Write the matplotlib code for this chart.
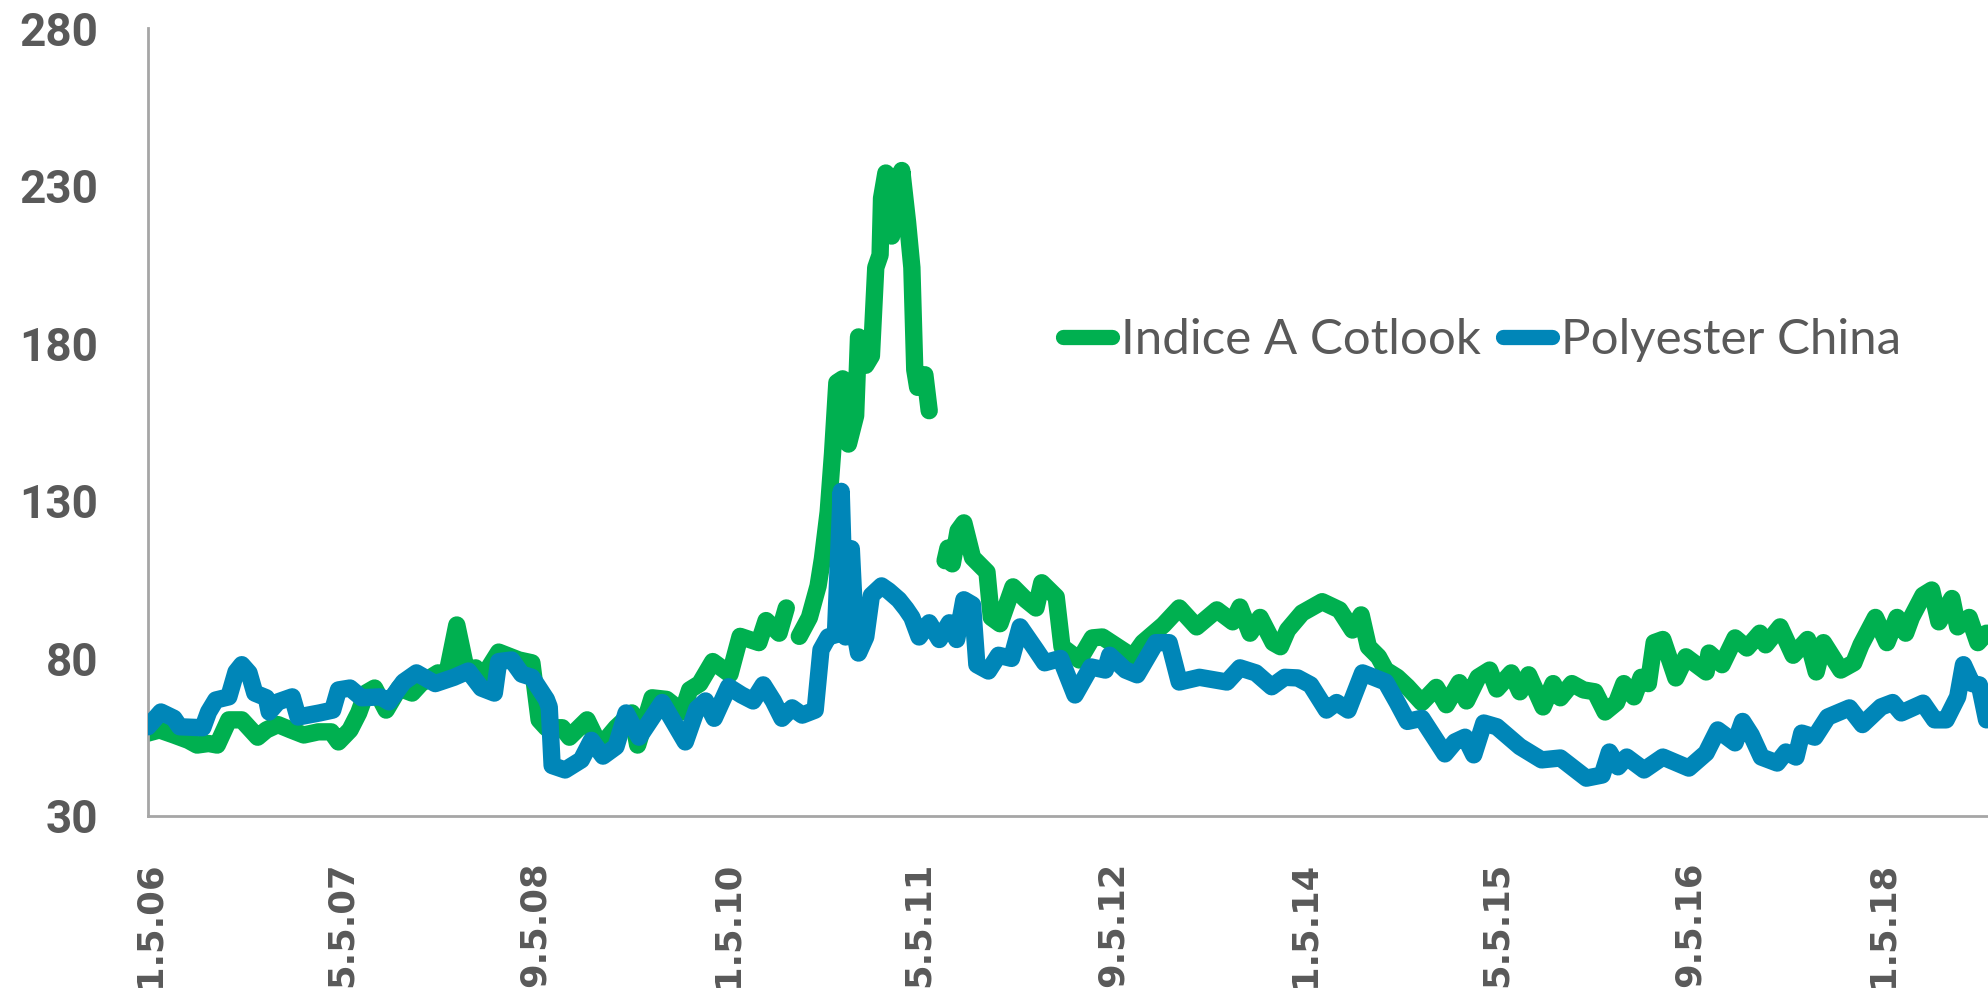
import matplotlib.pyplot as plt
from matplotlib.font_manager import FontProperties
import numpy as np
import pandas as pd

# Indice A Cotlook: (decimal year, value); nan marks the breaks in the series
cotlook_t = [2006.00, 2006.08, 2006.18, 2006.28, 2006.34, 2006.42, 2006.48, 2006.56, 2006.65, 2006.76,
             2006.82, 2006.90, 2006.99, 2007.08, 2007.18, 2007.27, 2007.32, 2007.40, 2007.46, 2007.51,
             2007.57, 2007.65, 2007.74, 2007.83, 2007.89, 2008.01, 2008.07, 2008.14, 2008.21, 2008.27,
             2008.32, 2008.43, 2008.57, 2008.66, 2008.71, 2008.76, 2008.87, 2008.92, 2009.04, 2009.13,
             2009.24, 2009.35, 2009.39, 2009.49, 2009.59, 2009.70, 2009.75, 2009.82, 2009.91, 2010.03,
             2010.10, 2010.23, 2010.28, 2010.37, 2010.42, 2010.47, 2010.51, 2010.58, 2010.64, 2010.67,
             2010.71, 2010.74, 2010.77, 2010.81, 2010.85, 2010.90, 2010.92, 2010.97, 2011.01, 2011.04,
             2011.07, 2011.08, 2011.11, 2011.15, 2011.18, 2011.20, 2011.22, 2011.26, 2011.29, 2011.31,
             2011.33, 2011.38, 2011.41, 2011.46, 2011.52, 2011.54, 2011.57, 2011.61, 2011.65, 2011.71,
             2011.81, 2011.84, 2011.90, 2011.99, 2012.08, 2012.15, 2012.19, 2012.29, 2012.33, 2012.45,
             2012.54, 2012.61, 2012.82, 2012.89, 2013.03, 2013.14, 2013.26, 2013.40, 2013.51, 2013.56,
             2013.63, 2013.70, 2013.79, 2013.84, 2013.89, 2013.99, 2014.13, 2014.25, 2014.34, 2014.40,
             2014.45, 2014.52, 2014.57, 2014.65, 2014.72, 2014.82, 2014.92, 2014.99, 2015.08, 2015.13,
             2015.21, 2015.29, 2015.34, 2015.44, 2015.50, 2015.56, 2015.66, 2015.73, 2015.78, 2015.86,
             2015.94, 2016.02, 2016.09, 2016.17, 2016.22, 2016.29, 2016.34, 2016.39, 2016.43, 2016.49,
             2016.58, 2016.65, 2016.79, 2016.81, 2016.90, 2016.99, 2017.07, 2017.16, 2017.20, 2017.30,
             2017.39, 2017.49, 2017.55, 2017.60, 2017.72, 2017.81, 2017.86, 2017.96, 2018.04, 2018.11,
             2018.17, 2018.21, 2018.29, 2018.35, 2018.40, 2018.49, 2018.53, 2018.61, 2018.67, 2018.73]
cotlook = [56.3, 57.3, 55.7, 54, 52.5, 53, 52.5, 60.5, 60.5, 55,
           57.3, 59, 57.3, 55.7, 56.7, 56.7, 53.5, 57.3, 62.7, 69,
           70.6, 63.6, 70.6, 69, 72, 75.4, 74.8, 90.6, 75.4, 77,
           74, 82, 79.5, 78.6, 60.5, 58, 58, 55, 60.5, 52,
           58, 62.7, 52.5, 67.5, 67, 63, 70, 72, 79, 75,
           87, 85, 92, 88, 96, np.nan, 87, 93, 103, 111.6,
           126.5, 145, 167.5, 168.7, 148, 157, 182, 173, 176, 204,
           208, 226, 234, 214, 233, 217, 234.8, 218.5, 204, 171.6,
           166, 170, 158.6, np.nan, 111, 115, 110, 120.5, 123, 112,
           107.4, 93, 91, 102.7, 98.6, 96, 104, 99.5, 83.7, 79.5,
           86.5, 86.8, 80.5, 85, 90.6, 96, 90, 95.4, 91.6, 96.3,
           88, 93, 85, 83.7, 89, 94.4, 98, 95.4, 89, 93.8,
           83.7, 80.5, 76.3, 74, 71, 66, 70.8, 65.3, 72.3, 66.5,
           74, 76.3, 70.3, 75.4, 69.4, 74.8, 64.6, 72, 67.5, 72,
           70, 69.4, 63, 66, 72, 67.8, 74, 72, 85, 86,
           73.8, 80.5, 75.7, 81.7, 78, 86.5, 83.3, 88, 84.3, 90,
           81, 86, 75.7, 85, 76.3, 78.6, 84.3, 93, 85, 93,
           88, 93, 100, 101.7, 91.6, 99, 90, 93, 85, 88]

# Polyester China
poly_t = [2006.00, 2006.09, 2006.18, 2006.22, 2006.38, 2006.42, 2006.47, 2006.56, 2006.61, 2006.65,
          2006.70, 2006.74, 2006.82, 2006.84, 2006.90, 2007.00, 2007.04, 2007.19, 2007.28, 2007.32,
          2007.40, 2007.48, 2007.61, 2007.67, 2007.77, 2007.86, 2007.99, 2008.12, 2008.22, 2008.31,
          2008.40, 2008.43, 2008.52, 2008.59, 2008.66, 2008.76, 2008.78, 2008.80, 2008.89, 2009.00,
          2009.07, 2009.15, 2009.24, 2009.31, 2009.40, 2009.56, 2009.72, 2009.80, 2009.86, 2009.92,
          2010.02, 2010.11, 2010.19, 2010.26, 2010.33, 2010.39, 2010.46, 2010.53, 2010.62, 2010.66,
          2010.71, 2010.76, 2010.80, 2010.83, 2010.87, 2010.90, 2010.92, 2010.97, 2011.01, 2011.08,
          2011.13, 2011.20, 2011.25, 2011.29, 2011.34, 2011.41, 2011.48, 2011.55, 2011.60, 2011.65,
          2011.71, 2011.74, 2011.82, 2011.89, 2011.98, 2012.04, 2012.15, 2012.21, 2012.32, 2012.42,
          2012.53, 2012.63, 2012.66, 2012.77, 2012.85, 2012.98, 2013.07, 2013.14, 2013.28, 2013.47,
          2013.56, 2013.67, 2013.78, 2013.87, 2013.96, 2014.05, 2014.16, 2014.23, 2014.31, 2014.41,
          2014.57, 2014.65, 2014.72, 2014.82, 2014.98, 2015.05, 2015.12, 2015.18, 2015.25, 2015.34,
          2015.50, 2015.65, 2015.78, 2015.96, 2016.07, 2016.12, 2016.18, 2016.24, 2016.36, 2016.49,
          2016.67, 2016.79, 2016.87, 2016.99, 2017.04, 2017.10, 2017.17, 2017.28, 2017.34, 2017.41,
          2017.45, 2017.54, 2017.63, 2017.78, 2017.87, 2018.00, 2018.08, 2018.14, 2018.29, 2018.37,
          2018.45, 2018.53, 2018.57, 2018.63, 2018.68, 2018.73]
poly = [58.3, 63, 61, 58.3, 58, 63, 66.8, 67.8, 75.7, 78,
        75.4, 69, 67.5, 63, 66.2, 67.8, 61.4, 62.7, 63.6, 70,
        70.6, 67.5, 67.8, 66.2, 72.5, 75.4, 72, 74, 76, 70.6,
        69, 79, 79.5, 75, 74, 67, 64.6, 46, 44.6, 47.8,
        54, 49, 52, 62.7, 55, 66, 53.5, 64, 66.5, 61,
        71, 68.4, 66.5, 71.6, 66.5, 61, 64.3, 62, 63.6, 82.7,
        86.8, 87.5, 133, 86.8, 114.8, 86.8, 81.7, 86.8, 100, 103,
        101.4, 98.6, 95.7, 93, 86.8, 91.3, 86, 91.3, 86, 98.6,
        97, 78, 76, 81, 80, 90, 82.7, 78.6, 80, 68.4,
        77.3, 76.3, 81, 76.3, 74.8, 85, 85, 72.5, 74, 72.5,
        77, 75.4, 71, 74, 73.8, 71.6, 63.6, 66, 63.6, 75.4,
        72.5, 66, 60, 61, 49.7, 53.5, 55, 49.4, 59.5, 58.3,
        52, 47.8, 48.4, 42, 43, 50.3, 45.6, 48.7, 44.6, 48.7,
        45.2, 50, 57.3, 53.2, 60, 55.7, 48.7, 46.8, 50.3, 48.7,
        56.3, 55, 61.4, 64.3, 59, 64.6, 66, 62.7, 65.8, 60.5,
        60.5, 67.8, 78, 72, 71.6, 60.5]

tick_dates = ['2006-01-05', '2007-05-05', '2008-09-05', '2010-01-05', '2011-05-05',
              '2012-09-05', '2014-01-05', '2015-05-05', '2016-09-05', '2018-01-05']
tick_labels = ['1.5.06', '5.5.07', '9.5.08', '1.5.10', '5.5.11',
               '9.5.12', '1.5.14', '5.5.15', '9.5.16', '1.5.18']
y_ticks = [30, 80, 130, 180, 230, 280]


def to_date(years):
    out = []
    for y in years:
        yr = int(y)
        out.append(pd.Timestamp(f'{yr}-01-01') + pd.Timedelta(days=(y - yr) * 365.25))
    return out


green = '#00B050'
blue = '#0086B8'
grey = '#595959'

fig = plt.figure(figsize=(19.88, 9.91), dpi=100)
ax = fig.add_axes([0.0744, 0.1766, 0.9256, 0.7951])

ax.plot(to_date(cotlook_t), cotlook, color=green, lw=12.5, solid_capstyle='round',
        solid_joinstyle='round', label='Indice A Cotlook', zorder=2)
ax.plot(to_date(poly_t), poly, color=blue, lw=12.5, solid_capstyle='round',
        solid_joinstyle='round', label='Polyester China', zorder=3)

ax.set_ylim(30, 280)
ax.set_xlim(to_date([2006.0])[0], to_date([2018.74])[0])

ytick_font = FontProperties(family='Roboto', weight='bold', size=33)
ax.set_yticks(y_ticks)
ax.set_yticklabels([str(v) for v in y_ticks], fontproperties=ytick_font)
ax.set_xticks(pd.to_datetime(tick_dates))
ax.set_xticklabels(tick_labels, rotation=90, fontsize=25.5, fontweight='bold',
                   family='DejaVu Sans', va='top')

for side in ['top', 'right']:
    ax.spines[side].set_visible(False)
for side in ['left', 'bottom']:
    ax.spines[side].set_color('#A6A6A6')
    ax.spines[side].set_linewidth(2)

ax.tick_params(axis='both', length=0, labelcolor=grey)
ax.tick_params(axis='x', pad=33)
ax.tick_params(axis='y', pad=36)

leg = fig.legend(loc='center', bbox_to_anchor=(0.7455, 0.657), ncol=2, frameon=False,
                 prop={'family': 'Lato', 'size': 35.5}, handlelength=1.0, handletextpad=0.18,
                 columnspacing=0.45)
for t in leg.get_texts():
    t.set_color(grey)
for h in leg.get_lines():
    h.set_linewidth(11)
    h.set_solid_capstyle('round')

fig.savefig('out.png', dpi=100)
